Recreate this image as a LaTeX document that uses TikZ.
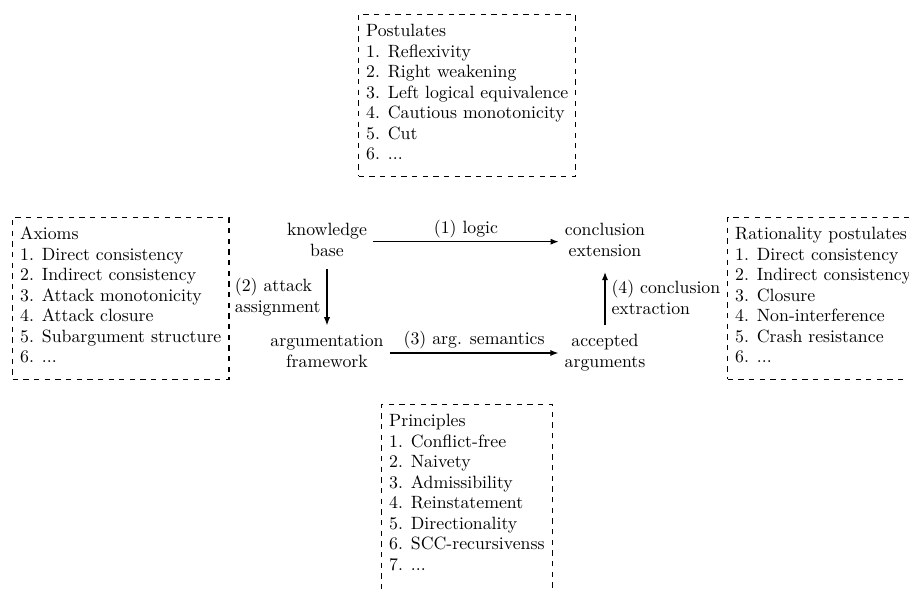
\documentclass[tikz,border=0pt]{standalone}
\usetikzlibrary{arrows.meta}
\begin{document}
\begin{tikzpicture}[x=0.5627pt, y=-0.5627pt,
  listbox/.style={draw, dashed, line width=0.6pt, anchor=north west,
                  inner xsep=4.3pt, inner ysep=4.4pt,
                  execute at begin node=\def\arraystretch{0.96}},
  stage/.style={inner sep=3.33pt},
  flow/.style={-{Latex[length=4.6pt,width=3.5pt]}, line width=0.7pt},
  lbl/.style={inner sep=3.33pt, align=left},
  toplbl/.style={inner sep=1.8pt, above},
]
\useasboundingbox (0,0) rectangle (909,589);
\clip (0,0) rectangle (909,589);

% central pipeline
\node[stage] (kb) at (327,241.7) {\begin{tabular}{@{}c@{}}knowledge\\base\end{tabular}};
\node[stage] (ce) at (605,241.7) {\begin{tabular}{@{}c@{}}conclusion\\extension\end{tabular}};
\node[stage] (af) at (327,353)   {\begin{tabular}{@{}c@{}}argumentation\\framework\end{tabular}};
\node[stage] (aa) at (605,353)   {\begin{tabular}{@{}c@{}}accepted\\arguments\end{tabular}};

\draw[flow] (kb) -- node[toplbl] {(1) logic} (ce);
\draw[flow] (kb) -- node[lbl, left] {(2) attack\\assignment} (af);
\draw[flow] (af) -- node[toplbl] {(3) arg. semantics} (aa);
\draw[flow, shorten >=1.5pt] (aa) -- node[lbl, right] {(4) conclusion\\extraction} (ce);

% property lists (a little extra room below the last item)
\node[listbox] (post) at (358,14) {\begin{tabular}{@{}l@{}}
  Postulates\\
  1. Reflexivity\\
  2. Right weakening\\
  3. Left logical equivalence\\
  4. Cautious monotonicity\\
  5. Cut\\
  6. ...\\[1.6pt]
\end{tabular}};

\node[listbox] (axioms) at (12,217) {\begin{tabular}{@{}l@{}}
  Axioms\\
  1. Direct consistency\\
  2. Indirect consistency\\
  3. Attack monotonicity\\
  4. Attack closure\\
  5. Subargument structure\\
  6. ...\\[1.6pt]
\end{tabular}};

\node[listbox] (rat) at (727,217) {\begin{tabular}{@{}l@{}}
  Rationality postulates\\
  1. Direct consistency\\
  2. Indirect consistency\\
  3. Closure\\
  4. Non-interference\\
  5. Crash resistance\\
  6. ...\\[1.6pt]
\end{tabular}};

\node[listbox] (princ) at (381,404) {\begin{tabular}{@{}l@{}}
  Principles\\
  1. Conflict-free\\
  2. Naivety\\
  3. Admissibility\\
  4. Reinstatement\\
  5. Directionality\\
  6. SCC-recursivenss\\
  7. ...\\[8pt]
\end{tabular}};
\end{tikzpicture}
\end{document}
